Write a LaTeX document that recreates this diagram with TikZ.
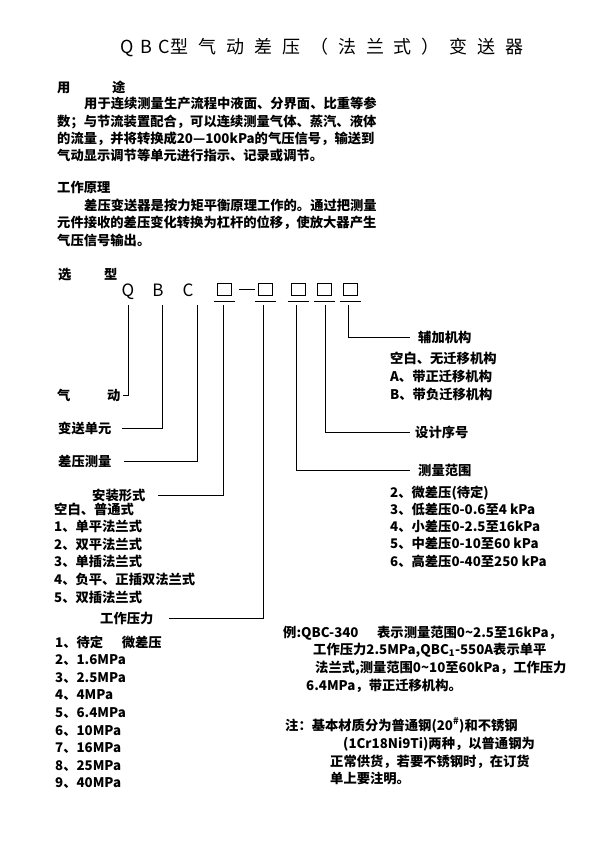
\documentclass[tikz,border=0pt]{standalone}
\usepackage{fontspec}
\setmainfont{Noto Sans CJK SC}
\newfontfamily\titlefont{Noto Sans CJK SC}[LetterSpace=55]
\newfontfamily\titlelat{Noto Sans CJK SC}[LetterSpace=35]
\usetikzlibrary{positioning}
\tikzset{
  txt/.style={anchor=west,inner sep=0pt,font=\fontsize{13.3}{16}\selectfont\bfseries,text height=11.7pt,text depth=1.6pt},
  codechar/.style={anchor=base,inner sep=0pt,font=\fontsize{17}{17}\selectfont,text height=12pt,text depth=0pt},
  slot/.style={draw,line width=1pt,minimum width=14pt,minimum height=12pt,inner sep=0pt},
  uline/.style={line width=1pt},
  lead/.style={line width=0.9pt},
}

\begin{document}
\begin{tikzpicture}[x=1pt,y=-1pt]
  \fill[white] (0,0) rectangle (600,849);
  \path[use as bounding box] (0,0) rectangle (600,849);

  % title
  \node[font=\fontsize{18}{20}\selectfont] (title) at (322,47) {{\titlelat QBC}\hspace{1pt}{\titlefont 型气动差压（法兰式）变送器}};

  % use
  \node[txt] (yt) at (57,87) {用\hspace{41.7pt}途};
  \foreach \x/\y/\t [count=\i] in {84/103/{用于连续测量生产流程中液面、分界面、比重等参},
      57/121/{数；与节流装置配合，可以连续测量气体、蒸汽、液体},
      57/138/{的流量，并将转换成20—100kPa的气压信号，输送到},
      57/155/{气动显示调节等单元进行指示、记录或调节。}}
    \node[txt] (yt\i) at (\x,\y) {\t};

  % principle
  \node[txt] (yl) at (57,187) {工作原理};
  \foreach \x/\y/\t [count=\i] in {84/205/{差压变送器是按力矩平衡原理工作的。通过把测量},
      57/222/{元件接收的差压变化转换为杠杆的位移，使放大器产生},
      57/240/{气压信号输出。}}
    \node[txt] (yl\i) at (\x,\y) {\t};

  % model code
  \node[txt] (xx) at (58,274) {选\hspace{32.7pt}型};
  \node[codechar] (cq) at (128,296) {Q};
  \node[codechar] (cb) at (158,296) {B};
  \node[codechar] (cc) at (188,296) {C};
  \node[slot] (s1) at (224,289) {};
  \node[slot] (s2) at (265,289) {};
  \node[slot] (s3) at (298,289) {};
  \node[slot] (s4) at (324,289) {};
  \node[slot] (s5) at (350,289) {};
  \foreach \s in {s1,s2,s3,s4,s5}
    \draw[uline] ([xshift=-3pt,yshift=-6pt]\s.south west) -- ([xshift=3pt,yshift=-6pt]\s.south east);
  \draw[uline] ([xshift=7pt]s1.east) -- ([xshift=-3pt]s2.west);
  \coordinate (top) at (0,305);

  % left labels
  \node[txt] (qd) at (57,395) {气\hspace{36.7pt}动};
  \node[txt] (bs) at (58,428) {变送单元};
  \node[txt] (cy) at (58,461) {差压测量};
  \node[txt] (az) at (92,495) {安装形式};
  \foreach \t [count=\i from 0] in {空白、普通式,1、单平法兰式,2、双平法兰式,3、单插法兰式,4、负平、正插双法兰式,5、双插法兰式}
    \node[txt] (az\i) at (54,509+17.6*\i) {\t};
  \node[txt] (gy) at (100,618) {工作压力};
  \foreach \t [count=\i from 0] in {1、待定\hspace{1.4em}微差压,2、1.6MPa,3、2.5MPa,4、4MPa,5、6.4MPa,6、10MPa,7、16MPa,8、25MPa,9、40MPa}
    \node[txt] (gy\i) at (55,642+17.6*\i) {\t};

  % right labels
  \node[txt] (fj) at (418,337) {辅加机构};
  \foreach \t [count=\i from 0] in {空白、无迁移机构,A、带正迁移机构,B、带负迁移机构}
    \node[txt] (fj\i) at (390,358+18*\i) {\t};
  \node[txt] (sj) at (415,432) {设计序号};
  \node[txt] (cl) at (418,470) {测量范围};
  \foreach \t [count=\i from 0] in {2、微差压(待定),3、低差压0-0.6至4 kPa,4、小差压0-2.5至16kPa,5、中差压0-10至60 kPa,6、高差压0-40至250 kPa}
    \node[txt] (cl\i) at (390,492+17.3*\i) {\t};

  % leads
  \draw[lead,shorten >=2pt] (cq.south |- top) |- (qd.east);
  \draw[lead,shorten >=10pt] ([xshift=4pt]cb.south |- top) |- (bs.east);
  \draw[lead,shorten >=12pt] ([xshift=9pt]cc.south |- top) |- (cy.east);
  \draw[lead,shorten >=12pt] ([xshift=-1pt]s1.south |- top) |- (az.east);
  \draw[lead,shorten >=15pt] ([xshift=-2pt]s2.south |- top) |- (gy.east);
  \draw[lead,shorten >=8pt] ([xshift=-2pt]s3.south |- top) |- (cl.west);
  \draw[lead,shorten >=5pt] ([xshift=1pt]s4.south |- top) |- (sj.west);
  \draw[lead,shorten >=8pt] ([xshift=-2pt]s5.south |- top) |- (fj.west);

  % example
  \foreach \x/\y/\t [count=\i] in {283/632/{例:QBC-340\hspace{1.4em}表示测量范围0\textasciitilde2.5至16kPa，},
      313/649/{工作压力2.5MPa,QBC\textsubscript{1}-550A表示单平},
      315/667/{法兰式,测量范围0\textasciitilde10至60kPa，工作压力},
      306/685/{6.4MPa，带正迁移机构。}}
    \node[txt] (lz\i) at (\x,\y) {\t};

  % note
  \foreach \x/\y/\t [count=\i] in {285/725/{注：基本材质分为普通钢(20\textsuperscript{\#})和不锈钢},
      343/743/{(1Cr18Ni9Ti)两种，以普通钢为},
      330/761/{正常供货，若要不锈钢时，在订货},
      330/778/{单上要注明。}}
    \node[txt] (zy\i) at (\x,\y) {\t};
\end{tikzpicture}
\end{document}
